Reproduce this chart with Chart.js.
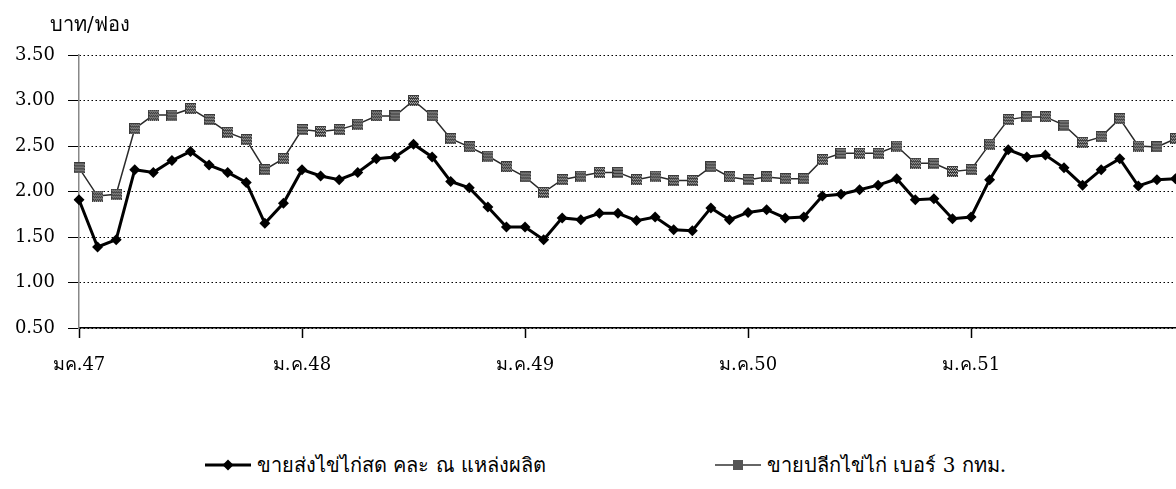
<!DOCTYPE html>
<html><head><meta charset="utf-8">
<script src="https://cdn.jsdelivr.net/npm/chart.js@4.4.1/dist/chart.umd.min.js"></script>
<style>
html,body{margin:0;padding:0;background:#fff;overflow:hidden;width:1176px;height:489px;}
#wrap{position:relative;width:1182px;height:489px;}
#c{position:absolute;left:0;top:0;}
#ytitle{position:absolute;left:50px;top:8px;font-family:"DejaVu Serif","Liberation Serif",serif;font-size:20px;color:#000;}
.leg{position:absolute;top:449px;font-family:"DejaVu Serif","Liberation Serif",serif;font-size:20px;color:#000;display:flex;align-items:center;white-space:nowrap;}
.leg svg{margin-right:6px;}
</style></head>
<body>
<div id="wrap">
<canvas id="c" width="1182" height="400"></canvas>
<div id="ytitle">บาท/ฟอง</div>
<div class="leg" style="left:205px;"><svg width="46" height="14"><line x1="0" y1="7" x2="46" y2="7" stroke="#000" stroke-width="3"/><polygon points="23,1.5 28.5,7 23,12.5 17.5,7" fill="#000"/></svg><span>ขายส่งไข่ไก่สด คละ ณ แหล่งผลิต</span></div>
<div class="leg" style="left:715px;"><svg width="46" height="14"><line x1="0" y1="7" x2="46" y2="7" stroke="#333" stroke-width="1.5"/><rect x="18" y="2" width="10" height="10" fill="#555"/></svg><span>ขายปลีกไข่ไก่ เบอร์ 3 กทม.</span></div>
</div>
<script>
// 60 months: Jan 2004 (มค.47) .. Dec 2008
const yearTickLabels = ["มค.47","ม.ค.48","ม.ค.49","ม.ค.50","ม.ค.51"];
const categories = [];
for (let i = 0; i < 60; i++) categories.push(i % 12 === 0 ? yearTickLabels[i/12] : "");

const wholesale = [1.91,1.39,1.47,2.24,2.21,2.34,2.44,2.29,2.21,2.10,1.65,1.87,
                   2.24,2.17,2.13,2.21,2.36,2.38,2.52,2.38,2.11,2.04,1.83,1.61,
                   1.61,1.47,1.71,1.69,1.76,1.76,1.68,1.72,1.58,1.57,1.82,1.69,
                   1.77,1.80,1.71,1.72,1.95,1.97,2.02,2.07,2.14,1.91,1.92,1.70,
                   1.72,2.13,2.46,2.38,2.40,2.26,2.07,2.24,2.36,2.06,2.13,2.14];
const retail    = [2.26,1.95,1.97,2.69,2.84,2.84,2.91,2.79,2.65,2.57,2.24,2.36,
                   2.68,2.66,2.68,2.74,2.83,2.83,3.00,2.83,2.58,2.49,2.39,2.27,
                   2.16,1.99,2.13,2.17,2.21,2.21,2.13,2.17,2.12,2.12,2.27,2.16,
                   2.13,2.16,2.14,2.14,2.35,2.42,2.42,2.42,2.50,2.31,2.31,2.22,
                   2.24,2.52,2.79,2.82,2.82,2.73,2.54,2.60,2.80,2.50,2.49,2.58];
const seriesNames = ["ขายส่งไข่ไก่สด คละ ณ แหล่งผลิต","ขายปลีกไข่ไก่ เบอร์ 3 กทม."];
const yTicks = [0.5,1.0,1.5,2.0,2.5,3.0,3.5];

// checkered square marker
const sq = document.createElement('canvas');
sq.width = 11; sq.height = 11;
(function(){
  const g = sq.getContext('2d');
  g.fillStyle = '#3a3a3a'; g.fillRect(0,0,11,11);
  g.fillStyle = '#b0b0b0';
  for (let y = 1; y < 11; y += 3) for (let x = 1; x < 11; x += 2) g.fillRect(x, y, 1, 1);
  for (let y = 2; y < 11; y += 3) for (let x = 2; x < 11; x += 2) g.fillRect(x, y, 1, 1);
})();

new Chart(document.getElementById('c'), {
  type: 'line',
  data: {
    labels: categories,
    datasets: [
      { label: seriesNames[0], data: wholesale, borderColor: '#000', borderWidth: 3,
        pointStyle: 'rectRot', pointRadius: 5.5, pointBackgroundColor: '#000', pointBorderColor: '#000',
        pointBorderWidth: 0, tension: 0, order: 1 },
      { label: seriesNames[1], data: retail, borderColor: '#2a2a2a', borderWidth: 1.5,
        pointStyle: sq, pointRadius: 5, tension: 0, order: 2 }
    ]
  },
  options: {
    responsive: false,
    animation: false,
    layout: { padding: { top: 55, right: 2, left: 0, bottom: 0 } },
    plugins: { legend: { display: false }, tooltip: { enabled: false } },
    scales: {
      x: {
        type: 'category',
        offset: false,
        afterFit: s => { s.height = 72; s.paddingLeft = 0; s.paddingRight = 0; },
        grid: {
          drawOnChartArea: false, drawTicks: true, tickLength: 10,
          tickColor: ctx => (ctx.index % 12 === 0 ? '#000' : 'rgba(0,0,0,0)'), tickWidth: 1.5
        },
        border: { display: true, color: '#000', width: 1.5 },
        ticks: {
          autoSkip: false, maxRotation: 0, minRotation: 0, padding: 17,
          color: '#000', font: { family: '"DejaVu Serif", "Liberation Serif", serif', size: 18 }
        }
      },
      y: {
        min: 0.5, max: 3.5,
        afterFit: s => { s.width = 79; },
        afterBuildTicks: s => { s.ticks = yTicks.map(v => ({ value: v })); },
        grid: {
          color: '#000', lineWidth: 1, tickLength: 11, tickColor: '#000'
        },
        border: { display: true, color: '#888', width: 1.5, dash: [1.5, 2.5] },
        ticks: {
          padding: 13, color: '#000',
          font: { family: '"DejaVu Serif", "Liberation Serif", serif', size: 18 },
          callback: v => Number(v).toFixed(2)
        }
      }
    }
  }
});
</script>
</body></html>
